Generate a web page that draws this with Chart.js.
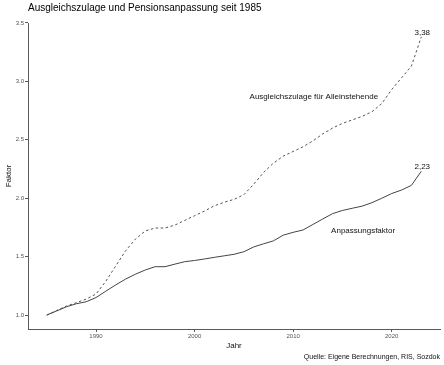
<!DOCTYPE html>
<html>
<head>
<meta charset="utf-8">
<script src="https://cdn.jsdelivr.net/npm/chart.js@4/dist/chart.umd.min.js"></script>
<style>
  html, body { margin: 0; padding: 0; background: #fff; }
  #wrap { width: 444px; height: 365px; }
</style>
</head>
<body>
<div id="wrap"><canvas id="c" width="444" height="365"></canvas></div>
<script>
// ---- data ----
const years = [1985,1986,1987,1988,1989,1990,1991,1992,1993,1994,1995,1996,1997,1998,1999,2000,2001,2002,2003,2004,2005,2006,2007,2008,2009,2010,2011,2012,2013,2014,2015,2016,2017,2018,2019,2020,2021,2022,2023];
const anpassungsfaktor = [1.000,1.035,1.071,1.097,1.114,1.150,1.205,1.258,1.308,1.350,1.386,1.414,1.414,1.436,1.457,1.467,1.480,1.494,1.507,1.520,1.542,1.583,1.610,1.635,1.684,1.708,1.728,1.775,1.822,1.868,1.895,1.914,1.932,1.962,2.000,2.040,2.070,2.110,2.230];
const ausgleichszulage = [1.000,1.040,1.077,1.106,1.137,1.180,1.290,1.420,1.550,1.650,1.720,1.745,1.745,1.770,1.810,1.850,1.890,1.935,1.965,1.990,2.030,2.120,2.220,2.300,2.360,2.400,2.440,2.490,2.550,2.600,2.640,2.670,2.700,2.740,2.810,2.930,3.030,3.130,3.380];
const xTickValues = [1990, 2000, 2010, 2020];
const yTickValues = [1.0, 1.5, 2.0, 2.5, 3.0, 3.5];
const seriesNames = ["Anpassungsfaktor", "Ausgleichszulage für Alleinstehende"];
const titleText = "Ausgleichszulage und Pensionsanpassung seit 1985";
const captionText = "Quelle: Eigene Berechnungen, RIS, Sozdok";
const xTitle = "Jahr";
const yTitle = "Faktor";

const FONT = '"Liberation Sans", Arial, Helvetica, sans-serif';
const SOLID_COLOR = '#444444';
const DASH_COLOR = '#555555';
const AXIS_COLOR = '#5a5a5a';

function toPoints(vals) { return years.map((y, i) => ({x: y, y: vals[i]})); }
function fmtDe(v) { return v.toFixed(2).replace('.', ','); }

const textPlugin = {
  id: 'texts',
  afterDraw(chart) {
    const ctx = chart.ctx;
    const xs = chart.scales.x, ys = chart.scales.y;
    const ca = chart.chartArea;
    ctx.save();
    // title
    ctx.fillStyle = '#000';
    ctx.font = '10px ' + FONT;
    ctx.textAlign = 'left';
    ctx.textBaseline = 'middle';
    ctx.fillText(titleText, ca.left, 8);
    // caption
    ctx.font = '7px ' + FONT;
    ctx.textAlign = 'right';
    ctx.fillStyle = '#111';
    ctx.fillText(captionText, ca.right, 357);
    // series labels
    ctx.font = '8px ' + FONT;
    ctx.textAlign = 'center';
    ctx.fillStyle = '#111';
    const lab = chart.options.plugins.texts.labels;
    lab.forEach(l => {
      ctx.fillText(l.text, xs.getPixelForValue(l.x), ys.getPixelForValue(l.y));
    });
    // end value labels
    ctx.textBaseline = 'alphabetic';
    const last = years.length - 1;
    [anpassungsfaktor, ausgleichszulage].forEach(vals => {
      const px = xs.getPixelForValue(years[last]);
      const py = ys.getPixelForValue(vals[last]);
      ctx.fillText(fmtDe(vals[last]), px + 1, py - 2);
    });
    ctx.restore();
  }
};

new Chart(document.getElementById('c'), {
  type: 'line',
  data: {
    datasets: [
      {
        label: seriesNames[0],
        data: toPoints(anpassungsfaktor),
        borderColor: SOLID_COLOR,
        borderWidth: 1,
        pointRadius: 0,
        tension: 0,
        fill: false
      },
      {
        label: seriesNames[1],
        data: toPoints(ausgleichszulage),
        borderColor: DASH_COLOR,
        borderWidth: 1,
        borderDash: [2.5, 2.5],
        pointRadius: 0,
        tension: 0,
        fill: false
      }
    ]
  },
  options: {
    responsive: false,
    animation: false,
    devicePixelRatio: 1,
    layout: { padding: { top: 23, right: 4, left: 0, bottom: 0 } },
    plugins: {
      legend: { display: false },
      title: { display: false },
      tooltip: { enabled: false },
      texts: {
        labels: [
          { text: seriesNames[1], x: 2012.1, y: 2.865 },
          { text: seriesNames[0], x: 2017.1, y: 1.72 }
        ]
      }
    },
    scales: {
      x: {
        type: 'linear',
        min: 1983.1,
        max: 2024.9,
        afterBuildTicks: (s) => { s.ticks = xTickValues.map(v => ({value: v})); },
        afterFit: (s) => { s.height = 36; },
        grid: { display: true, drawOnChartArea: false, drawTicks: true, tickLength: 3, tickColor: AXIS_COLOR, tickWidth: 1 },
        border: { display: true, color: AXIS_COLOR, width: 1 },
        ticks: { font: { size: 6, family: FONT }, color: '#555', padding: 1, maxRotation: 0, autoSkip: false, callback: (v) => String(v) },
        title: { display: true, text: xTitle, font: { size: 8, family: FONT }, color: '#111', padding: { top: 0, bottom: 14 } }
      },
      y: {
        type: 'linear',
        min: 0.881,
        max: 3.499,
        afterBuildTicks: (s) => { s.ticks = yTickValues.map(v => ({value: v})); },
        afterFit: (s) => { s.width = 28; },
        grid: { display: true, drawOnChartArea: false, drawTicks: true, tickLength: 3, tickColor: AXIS_COLOR, tickWidth: 1 },
        border: { display: true, color: AXIS_COLOR, width: 1 },
        ticks: { font: { size: 6, family: FONT }, color: '#555', padding: 1, autoSkip: false, callback: (v) => Number(v).toFixed(1) },
        title: { display: true, text: yTitle, font: { size: 8, family: FONT }, color: '#111', padding: { top: 4, bottom: 0 } }
      }
    }
  },
  plugins: [textPlugin]
});
</script>
</body>
</html>
